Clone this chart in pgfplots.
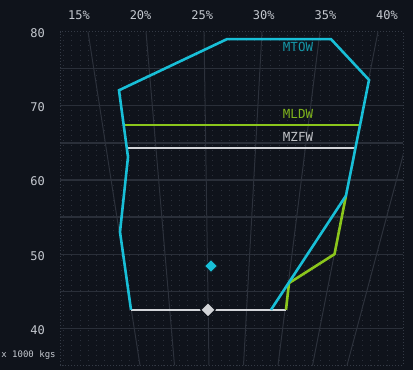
\documentclass[border=0pt]{standalone}
\usepackage{fontspec}
\setmainfont{DejaVu Sans Mono}
\usepackage{pgfplots}
\pgfplotsset{compat=1.18}
\definecolor{bg}{HTML}{0F131B}
\definecolor{gridc}{HTML}{2A2F39}
\definecolor{macc}{HTML}{2C313B}
\definecolor{dotc}{HTML}{2A2F3A}
\definecolor{framec}{HTML}{343A45}
\definecolor{tickt}{HTML}{C5C9D0}
\definecolor{cyanl}{HTML}{18BFD7}
\definecolor{cyant}{HTML}{1597A8}
\definecolor{greenl}{HTML}{8BC61C}
\definecolor{greent}{HTML}{80B51C}
\definecolor{whitel}{HTML}{D2D4D8}
\definecolor{whitet}{HTML}{C2C4C8}
\begin{document}
\begin{tikzpicture}[x=1bp,y=1bp]
\useasboundingbox (0,0) rectangle (413,370);
\fill[bg] (0,0) rectangle (413,370);
\begin{axis}[
  at={(60bp,4.6bp)}, anchor=south west,
  scale only axis, width=343bp, height=333.7bp,
  xmin=60, xmax=403, ymin=35, ymax=80,
  axis line style={draw=framec, dash pattern=on 1bp off 2bp, line width=0.8bp},
  /pgf/number format/assume math mode=true,
  tick style={draw=none}, major tick length=0pt, minor tick length=0pt,
  xtick={79,140.6,202.2,263.8,325.4,387},
  xticklabels={15\%,20\%,25\%,30\%,35\%,40\%},
  xticklabel pos=upper,
  xticklabel style={anchor=base, inner sep=0pt, yshift=12.3bp, font=\fontsize{12bp}{14bp}\selectfont, text=tickt},
  minor xtick={63.3,71.6,79.9,88.2,96.5,104.8,113.1,121.4,129.7,138,146.3,154.6,162.9,171.2,179.5,187.8,196.1,204.4,212.7,221,229.3,237.6,245.9,254.2,262.5,270.8,279.1,287.4,295.7,304,312.3,320.6,328.9,337.2,345.5,353.8,362.1,370.4,378.7,387,395.3},
  xminorgrids=true,
  minor grid style={dotc, dash pattern=on 0.8bp off 4.2bp, line width=0.7bp},
  ytick={40,45,50,55,60,65,70,75},
  yticklabels={40,,50,,60,,70,},
  extra y ticks={80}, extra y tick labels={80},
  extra y tick style={grid=none},
  ymajorgrids=true,
  major grid style={gridc, line width=1.2bp},
  yticklabel style={anchor=east, inner sep=0pt, xshift=-15bp, yshift=-1.5bp, font=\fontsize{12bp}{14bp}\selectfont, text=tickt},
  clip=true,
]
% MAC lines (15% .. 45%)
\addplot[macc, line width=1bp] coordinates {(88,80) (140,35)};
\addplot[macc, line width=1bp] coordinates {(146,80) (174.5,35)};
\addplot[macc, line width=1bp] coordinates {(204,80) (209,35)};
\addplot[macc, line width=1bp] coordinates {(262,80) (243.5,35)};
\addplot[macc, line width=1bp] coordinates {(320,80) (278,35)};
\addplot[macc, line width=1bp] coordinates {(378,80) (312.5,35)};
\addplot[macc, line width=1bp] coordinates {(436,80) (347,35)};
% MZFW
\addplot[whitel, line width=2.3bp] coordinates {(127,64.3) (355,64.3)};
% bottom line
\addplot[whitel, line width=2.3bp] coordinates {(131,42.5) (286,42.5)};
% MLDW
\addplot[greenl, line width=2.6bp] coordinates {(124,67.4) (360,67.4)};
\addplot[greenl, line width=2.6bp, line join=round] coordinates {(346,57.9) (334.5,50.0) (289,46.1) (286,42.5)};
% MTOW envelope
\addplot[cyanl, line width=2.6bp, line join=miter] coordinates {
 (131,42.5) (120,53.0) (128,63.1) (119,72.1) (227,79.0) (331,79.0) (369,73.5) (346,57.9) (271,42.5)};
% points
\addplot[only marks, mark=square*, mark size=5.2bp, mark options={rotate=45, fill=whitel, draw=bg, line width=1.2bp}] coordinates {(208,42.5)};
\addplot[only marks, mark=square*, mark size=4.6bp, mark options={rotate=45, fill=cyanl, draw=bg, line width=1bp}] coordinates {(211,48.4)};
% labels
\node[text=cyant, font=\fontsize{12.5bp}{14bp}\selectfont] at (axis cs:298,77.94) {MTOW};
\node[text=greent, font=\fontsize{12.5bp}{14bp}\selectfont] at (axis cs:298,68.86) {MLDW};
\node[text=whitet, font=\fontsize{12.5bp}{14bp}\selectfont] at (axis cs:298,65.76) {MZFW};
\end{axis}
\node[text=tickt, font=\fontsize{9bp}{10bp}\selectfont] at (28.5,15) {x 1000 kgs};
\end{tikzpicture}
\end{document}
